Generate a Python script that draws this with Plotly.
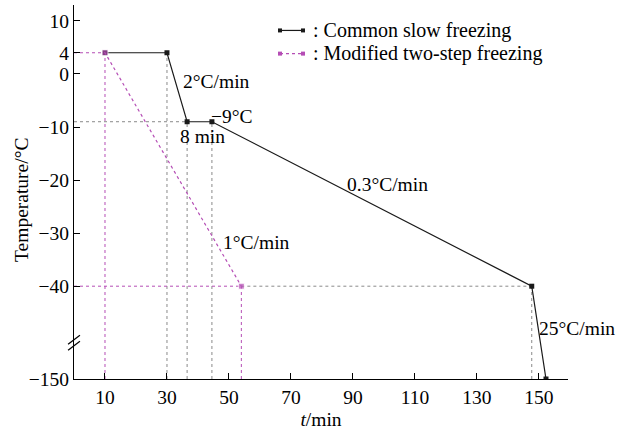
import plotly.graph_objects as go

# ---- data ----
common_t = [10, 30, 36.5, 44.5, 147.7, 152.3]
common_temp = [4, 4, -9, -9, -40, -150]
modified_t = [0, 10, 54]
modified_temp = [4, 4, -40]
y_tick_vals = [10, 4, 0, -10, -20, -30, -40, -150]
y_tick_text = ["10", "4", "0", "−10", "−20", "−30", "−40", "−150"]
x_tick_vals = [10, 30, 50, 70, 90, 110, 130, 150]
series_names = [": Common slow freezing", ": Modified two-step freezing"]

# broken y axis: values below -40 are compressed
def fy(v):
    return v if v >= -40 else -40 + (v + 40) * 0.159

BLACK = "#1a1a1a"
PINK = "#b54db5"
GRAY = "#8a8a8a"
FONT = "Liberation Serif"
FS = 19.5

fig = go.Figure()

# guide lines derived from data points
def vline(x, y, color):
    fig.add_shape(type="line", x0=x, x1=x, y0=fy(-150), y1=fy(y), xref="x", yref="y",
                  line=dict(color=color, width=1, dash="dot"), layer="below")

def hline(x0, x1, y, color):
    fig.add_shape(type="line", x0=x0, x1=x1, y0=fy(y), y1=fy(y), xref="x", yref="y",
                  line=dict(color=color, width=1, dash="dot"), layer="below")

vline(common_t[1], common_temp[1], GRAY)
vline(common_t[2], common_temp[2], GRAY)
vline(common_t[3], common_temp[3], GRAY)
vline(common_t[4], common_temp[4], GRAY)
vline(modified_t[1], modified_temp[1], PINK)
vline(modified_t[2], modified_temp[2], PINK)
hline(0, common_t[2], common_temp[2], GRAY)
hline(modified_t[2], common_t[4], common_temp[4], GRAY)
hline(0, modified_t[2], modified_temp[2], PINK)

fig.add_trace(go.Scatter(
    x=common_t, y=[fy(v) for v in common_temp], mode="lines+markers",
    name=series_names[0], showlegend=False,
    line=dict(color=BLACK, width=1.2),
    marker=dict(symbol="square", size=5, color=BLACK),
))
fig.add_trace(go.Scatter(
    x=modified_t, y=[fy(v) for v in modified_temp], mode="lines+markers",
    name=series_names[1], showlegend=False,
    line=dict(color=PINK, width=1.2, dash="dot"),
    marker=dict(symbol="square", size=[0, 6, 6], color=PINK),
))

# manual legend (compact rows like the reference)
leg_rows = [(0.932, BLACK, "solid"), (0.870, PINK, "dot")]
lx0, lx1, ltx = 0.417, 0.4636, 0.479
for (ly, col, dash), name in zip(leg_rows, series_names):
    fig.add_shape(type="line", xref="paper", yref="paper", x0=lx0, x1=lx1, y0=ly, y1=ly,
                  line=dict(color=col, width=1.2, dash=dash))
    for xa in (lx0, lx1):
        fig.add_shape(type="rect", xref="paper", yref="paper", xsizemode="pixel", ysizemode="pixel",
                      xanchor=xa, yanchor=ly, x0=-2, x1=2, y0=-2, y1=2,
                      fillcolor=col, line=dict(width=0))
    fig.add_annotation(text=name, xref="paper", yref="paper", x=ltx, y=ly, xanchor="left",
                       yanchor="middle", showarrow=False, font=dict(family=FONT, size=20, color="black"))

ann = dict(showarrow=False, font=dict(family=FONT, size=FS, color="black"), xref="x", yref="y")
fig.add_annotation(text="2°C/min", x=34.5, y=fy(-1.5), xanchor="left", **ann)
fig.add_annotation(text="−9°C", x=43.7, y=fy(-8.1), xanchor="left", **ann)
fig.add_annotation(text="8 min", x=41.5, y=fy(-11.8), xanchor="center", **ann)
fig.add_annotation(text="0.3°C/min", x=101.3, y=fy(-20.9), xanchor="center", **ann)
fig.add_annotation(text="1°C/min", x=47.5, y=fy(-31.7), xanchor="left", **ann)
fig.add_annotation(text="25°C/min", x=149.5, y=fy(-90), xanchor="left", **ann)

# y-axis title
fig.add_annotation(text="Temperature/°C", xref="paper", yref="paper", x=-0.105, y=0.479,
                   textangle=-90, showarrow=False, xanchor="center", yanchor="middle",
                   font=dict(family=FONT, size=FS, color="black"))

# axis break marks
for dy in (-3, 3):
    fig.add_shape(type="line", xref="paper", yref="paper",
                  x0=-0.012, x1=0.012, y0=0.097 + dy / 374 - 0.012, y1=0.097 + dy / 374 + 0.012,
                  line=dict(color="black", width=1.2))

fig.update_layout(
    width=618, height=436,
    margin=dict(l=74, r=50, t=5, b=57),
    paper_bgcolor="white", plot_bgcolor="white",
    font=dict(family=FONT, size=FS, color="black"),
    showlegend=False,
    xaxis=dict(range=[0, 159.4], tickvals=x_tick_vals, showgrid=False, zeroline=False,
               showline=True, linecolor="black", linewidth=1.2, automargin=False,
               ticks="inside", ticklen=6, tickcolor="black",
               title=dict(text="<i>t</i>/min", font=dict(family=FONT, size=FS), standoff=5)),
    yaxis=dict(range=[fy(-150), 13], tickvals=[fy(v) for v in y_tick_vals], ticktext=y_tick_text,
               showgrid=False, zeroline=False, automargin=False,
               showline=True, linecolor="black", linewidth=1.2,
               ticks="inside", ticklen=6, tickcolor="black"),
)

fig.write_html("out.html", config={"displayModeBar": False},
               post_script="document.body.style.margin='0';")
